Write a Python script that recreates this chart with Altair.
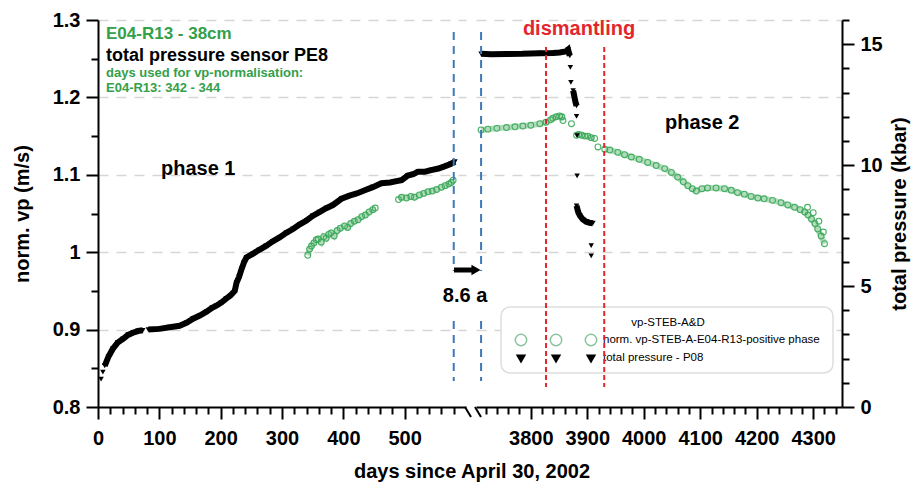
import altair as alt
import pandas as pd

FONT = "Liberation Sans"
GREEN_TXT = "#33a04a"
GREEN_PT = "#3aa858"
RED = "#e3262d"
BLUE = "#3f78b8"
GRID = "#d6d6d6"

# ---------------- data ----------------
# total pressure (kbar), black triangles; seg 'pt' = isolated points
press_day = [5, 8,
             11, 17, 24, 32, 41, 49, 57, 65, 73,
             82, 100, 117, 133, 145, 155, 166, 177, 186, 193, 201, 209, 216, 223, 226, 230, 234, 238, 242,
             253, 263, 274, 285, 296, 307, 318, 329, 340, 350, 361, 372, 383, 397, 410, 422, 435, 448, 462,
             476, 487, 495, 505, 514, 522, 533, 543, 555, 565, 575, 582,
             3712, 3730, 3757, 3785, 3816, 3840, 3851, 3862, 3866, 3869,
             3870, 3871,
             3875, 3877, 3879, 3881,
             3881, 3882, 3882,
             3881, 3884, 3887, 3892, 3898, 3904, 3910,
             3907, 3907]
press_kbar = [1.15, 1.44,
              1.70, 2.08, 2.40, 2.66, 2.82, 2.98, 3.07, 3.14, 3.17,
              3.20, 3.23, 3.30, 3.36, 3.49, 3.65, 3.78, 3.94, 4.10, 4.19, 4.32, 4.48, 4.61, 4.80, 5.15, 5.38, 5.70, 5.98, 6.18,
              6.34, 6.50, 6.66, 6.85, 7.01, 7.20, 7.36, 7.55, 7.71, 7.90, 8.06, 8.22, 8.35, 8.61, 8.74, 8.83, 8.96, 9.09, 9.25,
              9.28, 9.34, 9.38, 9.57, 9.63, 9.73, 9.73, 9.79, 9.86, 9.95, 10.05, 10.14,
              14.60, 14.58, 14.59, 14.60, 14.63, 14.64, 14.66, 14.70, 14.78, 14.52,
              14.04, 13.42,
              13.08, 12.85, 12.62, 12.45,
              12.02, 11.22, 9.56,
              8.32, 8.05, 7.91, 7.76, 7.66, 7.62, 7.60,
              6.67, 6.25]
press_seg = (["pt"] * 2 + ["a"] * 9 + ["b"] * 50 + ["c"] * 10 + ["pt"] * 2 +
             ["d"] * 4 + ["pt"] * 3 + ["e"] * 7 + ["pt"] * 2)

# normalised vp, green open circles
vp_day = [342, 345, 348, 352, 356, 359, 364, 368, 372, 376, 380, 385, 390, 395, 402, 407, 412, 418, 424, 430,
          436, 442, 448, 452,
          490, 495, 503, 510, 516, 524, 531, 538, 545, 552, 560, 566, 572, 576, 579,
          3712, 3724, 3740, 3757, 3772, 3786, 3800, 3816, 3827, 3835, 3839, 3845, 3851, 3855, 3857,
          3872,
          3881, 3885, 3890, 3896, 3901, 3907, 3913,
          3919,
          3931, 3940, 3954, 3966, 3978, 3992, 4007, 4022, 4037, 4049, 4060, 4070, 4078, 4086, 4093, 4103,
          4113, 4128, 4143, 4155, 4166, 4178, 4190, 4202, 4213, 4228, 4243, 4255, 4267, 4277, 4285, 4291,
          4297, 4303, 4308, 4314, 4320,
          4290, 4300, 4310, 4318]
vp_val = [0.996, 1.004, 1.008, 1.012, 1.016, 1.017, 1.013, 1.020, 1.018, 1.023, 1.025, 1.021, 1.028, 1.031,
          1.034, 1.032, 1.037, 1.040, 1.042, 1.046, 1.048, 1.052, 1.055, 1.057,
          1.068, 1.071, 1.070, 1.072, 1.071, 1.074, 1.076, 1.078, 1.079, 1.081, 1.084, 1.086, 1.088, 1.090, 1.093,
          1.158, 1.159, 1.160, 1.161, 1.162, 1.163, 1.164, 1.166, 1.168, 1.171, 1.173, 1.175, 1.176, 1.175, 1.170,
          1.166,
          1.151, 1.152, 1.151, 1.150, 1.150, 1.148, 1.147,
          1.136,
          1.133, 1.132, 1.129, 1.126, 1.123, 1.120, 1.116, 1.112, 1.108, 1.103, 1.097, 1.091, 1.086, 1.082,
          1.079, 1.082, 1.083, 1.083, 1.082, 1.080, 1.077, 1.075, 1.072, 1.070, 1.069, 1.067, 1.064, 1.061,
          1.058, 1.055, 1.052, 1.048, 1.043, 1.037, 1.030, 1.021, 1.011,
          1.058, 1.051, 1.040, 1.026]
vp_seg = (["A"] * 24 + ["B"] * 15 + ["C"] * 15 + ["pt"] + ["D"] * 7 + ["pt"] + ["E"] * 37 + ["pt"] * 4)

break_days = [580, 3712]
dismantle_days = [3827, 3930]

x_tick_p1 = list(range(0, 600, 20))
x_tick_p2 = list(range(3720, 4351, 20))
vp_ticks = [round(0.8 + 0.05 * i, 2) for i in range(11)]
vp_grid = [0.9, 1.0, 1.1, 1.2, 1.3]
kbar_ticks = list(range(0, 17))

txt_site = "E04-R13 - 38cm"
txt_sensor = "total pressure sensor PE8"
txt_norm1 = "days used for vp-normalisation:"
txt_norm2 = "E04-R13: 342 - 344"
txt_phase1 = "phase 1"
txt_phase2 = "phase 2"
txt_dism = "dismantling"
txt_gap = "8.6 a"
x_title = "days since April 30, 2002"
leg_title = "vp-STEB-A&D"
leg_labels = ["norm. vp-STEB-A-E04-R13-positive phase", "total pressure - P08"]

press_df = pd.DataFrame({"day": press_day, "kbar": press_kbar, "seg": press_seg})
vp_df = pd.DataFrame({"day": vp_day, "vp": vp_val, "seg": vp_seg})

W1, W2, H = 368, 366, 387
MAJ100 = "datum.value % 100 === 0"
MAJVP = "round(datum.value*100) % 10 === 0"


def text_layer(s, x, y, size=20, color="black", align="left", weight="bold"):
    return alt.Chart(pd.DataFrame({"t": [s]})).mark_text(
        font=FONT, fontSize=size, fontWeight=weight, color=color, align=align, baseline="middle"
    ).encode(text="t:N", x=alt.value(x), y=alt.value(y))


def vrules(days, xenc, color, y1, y2, dash):
    return alt.Chart(pd.DataFrame({"day": days})).mark_rule(
        color=color, strokeWidth=2, strokeDash=dash
    ).encode(x=xenc, y=alt.value(y1), y2=alt.value(y2))


def panel(lo, hi, width, xdomain, xticks, first):
    pdat = press_df[(press_df.day >= lo) & (press_df.day <= hi)]
    vdat = vp_df[(vp_df.day >= lo) & (vp_df.day <= hi)]
    x_axis = alt.Axis(
        values=xticks, title=None, labelOverlap=False, labelFlush=False,
        labelExpr=f"{MAJ100} ? format(datum.value, 'd') : ''",
        tickSize={"condition": {"test": MAJ100, "value": 12}, "value": 7},
        labelPadding=9, grid=False,
    )
    xenc = alt.X("day:Q", scale=alt.Scale(domain=xdomain, nice=False, zero=False), axis=x_axis)

    if first:
        vp_axis = alt.Axis(
            values=vp_ticks, orient="left", title="norm. vp (m/s)",
            labelExpr=f"{MAJVP} ? format(datum.value, '') : ''",
            tickSize={"condition": {"test": MAJVP, "value": 12}, "value": 7},
            labelPadding=6, titlePadding=20, grid=True,
            gridOpacity={"condition": {"test": f"{MAJVP} && datum.value > 0.85", "value": 1}, "value": 0},
        )
    else:
        vp_axis = alt.Axis(values=vp_grid, orient="left", title=None, labels=False, ticks=False,
                           domain=False, grid=True)
    yvp = alt.Y("vp:Q", scale=alt.Scale(domain=[0.8, 1.3], nice=False, zero=False), axis=vp_axis)

    if first:
        p_axis = None
    else:
        p_axis = alt.Axis(
            values=kbar_ticks, orient="right", title="total pressure (kbar)", titleAngle=270,
            labelExpr="datum.value % 5 === 0 ? datum.label : ''",
            tickSize={"condition": {"test": "datum.value % 5 === 0", "value": 12}, "value": 7},
            labelPadding=6, titlePadding=27, grid=False,
        )
    yp = alt.Y("kbar:Q", scale=alt.Scale(domain=[0, 16], nice=False, zero=False), axis=p_axis)

    g_line = alt.Chart(vdat[vdat.seg != "pt"]).mark_line(
        color=GREEN_PT, strokeWidth=6, opacity=0.4
    ).encode(x=xenc, y=yvp, detail="seg:N")
    g_pts = alt.Chart(vdat).mark_point(
        shape="circle", filled=False, color=GREEN_PT, size=34, strokeWidth=1.1, opacity=0.9
    ).encode(x=xenc, y=yvp)
    vp_group = alt.layer(g_line, g_pts)

    b_line = alt.Chart(pdat[pdat.seg != "pt"]).mark_line(
        color="black", strokeWidth=6
    ).encode(x=xenc, y=yp, detail="seg:N")
    b_pts = alt.Chart(pdat).mark_point(
        shape="triangle-down", filled=True, color="black", size=30, opacity=1
    ).encode(x=xenc, y=yp)
    p_group = alt.layer(b_line, b_pts)

    layers = []
    if first:
        layers += [
            vrules([break_days[0]], xenc, BLUE, 12, 251, [8, 6]),
            vrules([break_days[0]], xenc, BLUE, 301, 361, [8, 6]),
            text_layer(txt_site, 8, 14, 17, GREEN_TXT),
            text_layer(txt_sensor, 8, 36, 18),
            text_layer(txt_norm1, 8, 53, 13, GREEN_TXT),
            text_layer(txt_norm2, 8, 68, 13, GREEN_TXT),
            text_layer(txt_phase1, 63, 149, 20),
            text_layer(txt_gap, 367, 276, 20, align="center"),
            text_layer(x_title, 374, 452, 20, align="center"),
            alt.Chart(pd.DataFrame({"a": [0]})).mark_rule(color="black", strokeWidth=5).encode(
                x=alt.value(356), x2=alt.value(374), y=alt.value(250)),
            alt.Chart(pd.DataFrame({"a": [0]})).mark_point(
                shape="triangle-right", filled=True, color="black", size=110, opacity=1).encode(
                x=alt.value(378), y=alt.value(250)),
            alt.Chart(pd.DataFrame({"a": [0]})).mark_rule(color="black", strokeWidth=2).encode(
                x=alt.value(367), x2=alt.value(373), y=alt.value(387), y2=alt.value(397)),
            alt.Chart(pd.DataFrame({"a": [0]})).mark_rule(color="black", strokeWidth=2).encode(
                x=alt.value(377), x2=alt.value(383), y=alt.value(387), y2=alt.value(397)),
        ]
    else:
        # legend box drawn by hand
        layers += [
            alt.Chart(pd.DataFrame({"a": [0]})).mark_rect(
                fill="white", stroke="#dedede", strokeWidth=1.5, cornerRadius=9).encode(
                x=alt.value(25), x2=alt.value(357), y=alt.value(287), y2=alt.value(353)),
            text_layer(leg_title, 192, 303, 11.5, align="center", weight="normal"),
            text_layer(leg_labels[0], 127, 320, 11.5, weight="normal"),
            text_layer(leg_labels[1], 127, 338, 11.5, weight="normal"),
        ]
        for cx in [45, 80, 115]:
            layers += [
                alt.Chart(pd.DataFrame({"a": [0]})).mark_point(
                    shape="circle", filled=False, color="#5aab78", size=130, strokeWidth=1.5).encode(
                    x=alt.value(cx), y=alt.value(320)),
                alt.Chart(pd.DataFrame({"a": [0]})).mark_point(
                    shape="triangle-down", filled=True, color="black", size=110, opacity=1).encode(
                    x=alt.value(cx), y=alt.value(339)),
            ]
        layers += [
            vrules([break_days[1]], xenc, BLUE, 12, 251, [8, 6]),
            vrules([break_days[1]], xenc, BLUE, 301, 361, [8, 6]),
            vrules(dismantle_days, xenc, RED, 27, 367, [5, 3]),
            text_layer(txt_dism, 103, 9, 20, RED, align="center"),
            text_layer(txt_phase2, 189, 103, 20),
        ]

    return alt.layer(vp_group, p_group, *layers).resolve_scale(y="independent").properties(
        width=width, height=H)


p1 = panel(0, 1000, W1, [0, 600], x_tick_p1, True)
p2 = panel(1000, 5000, W2, [3703, 4351], x_tick_p2, False)

chart = alt.hconcat(p1, p2, spacing=10, bounds="flush").properties(
    padding={"left": 12, "top": 10, "right": 2, "bottom": 2}
).configure_view(stroke=None).configure_axis(
    labelFont=FONT, labelFontSize=20, labelFontWeight="bold", labelColor="black",
    titleFont=FONT, titleFontSize=20, titleFontWeight="bold", titleColor="black",
    domainColor="black", domainWidth=2, tickColor="black", tickWidth=2,
    gridColor=GRID, gridDash=[10, 8], gridWidth=1.3,
)

chart.save("out.html", embed_options={"renderer": "svg", "actions": False})
